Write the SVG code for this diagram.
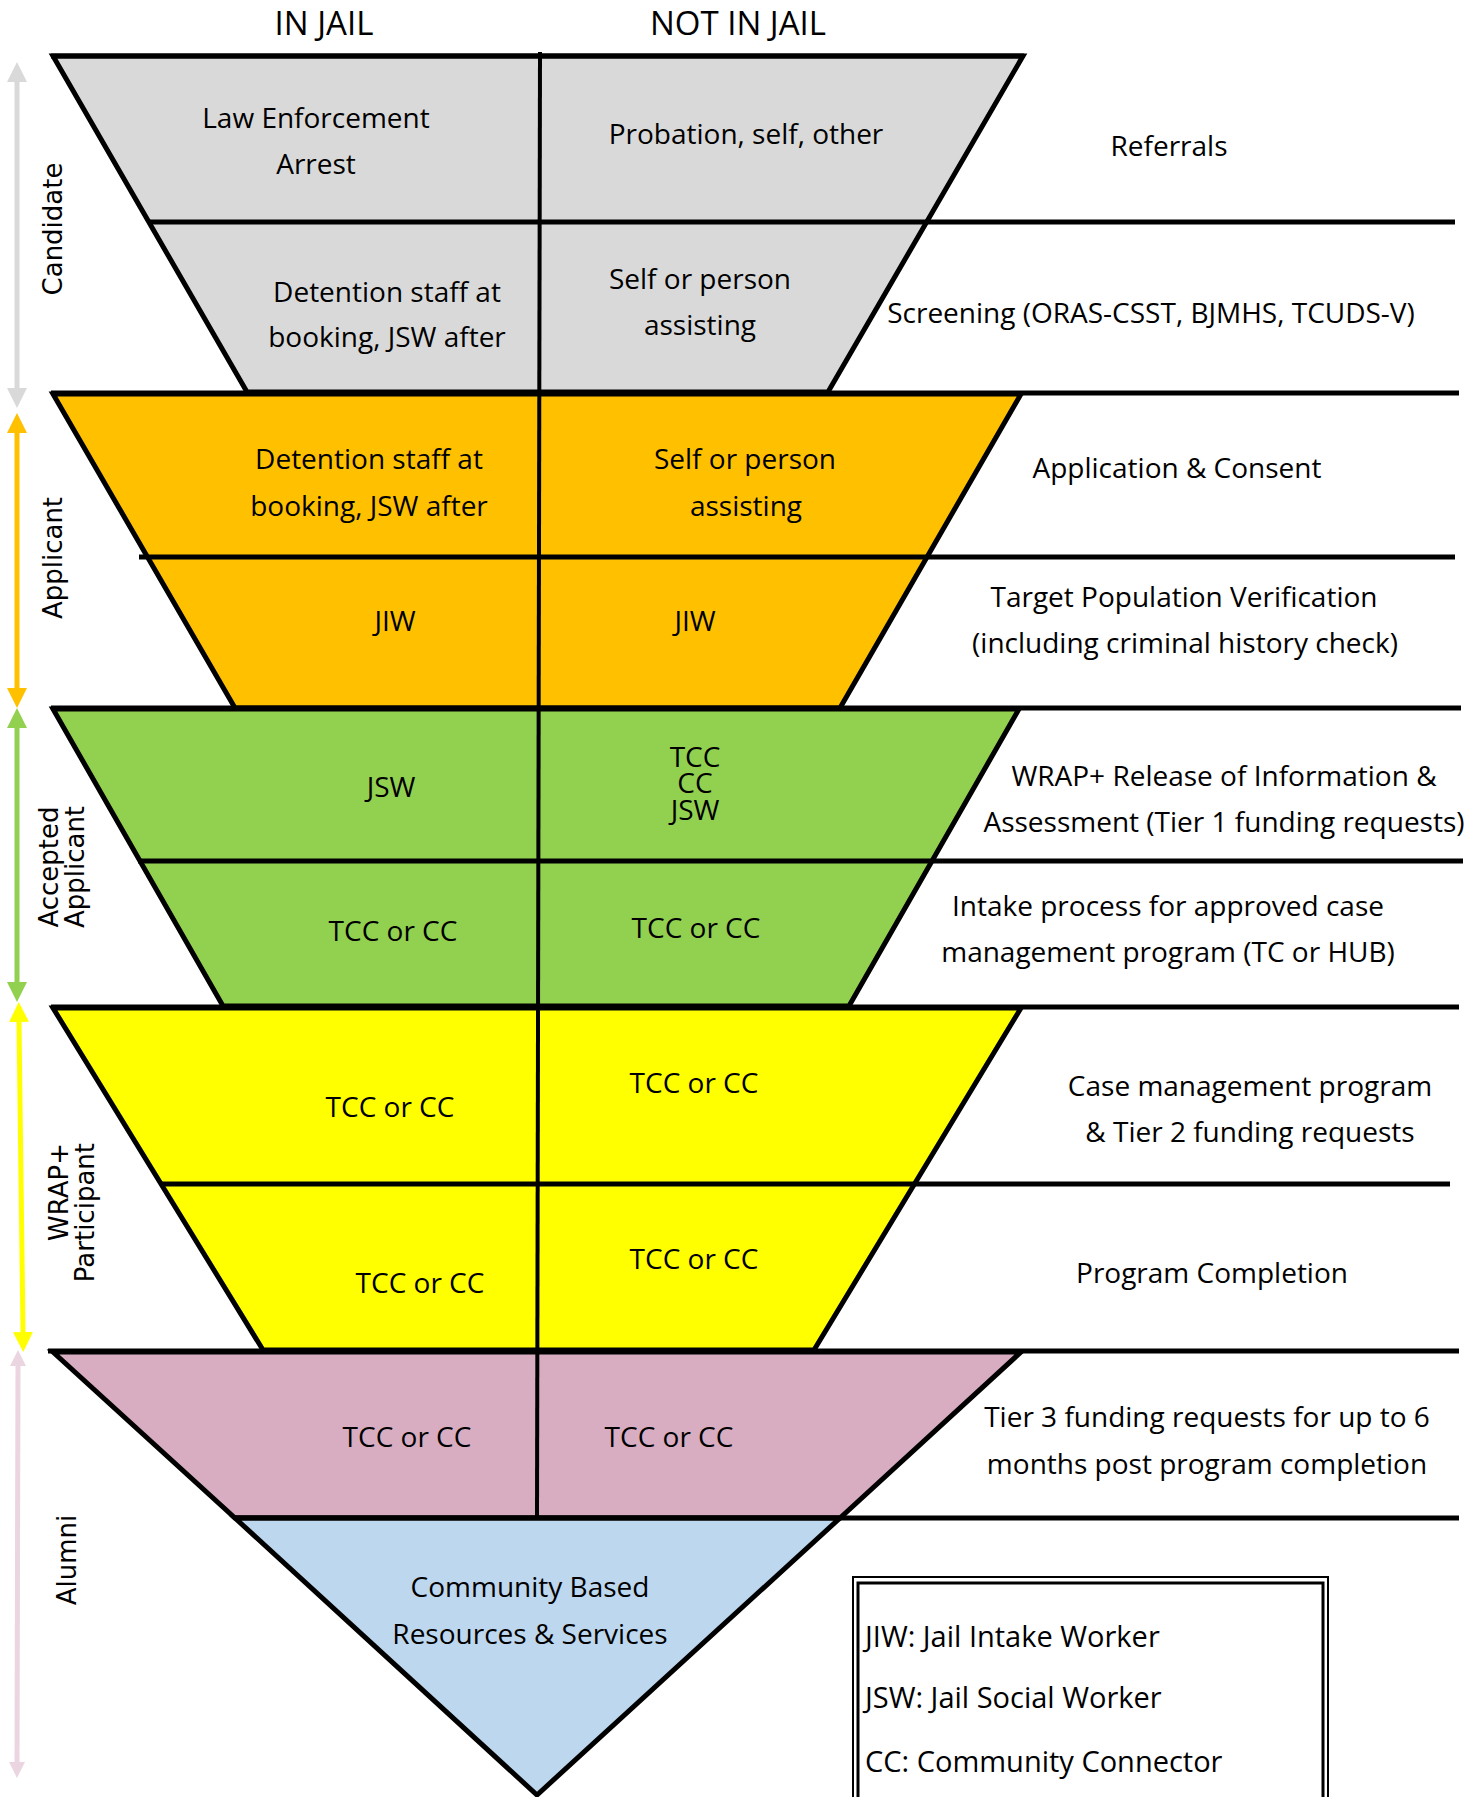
<svg xmlns="http://www.w3.org/2000/svg" width="1480" height="1797" viewBox="0 0 1480 1797">
<defs>
<style>
.edge{stroke:#000;stroke-width:5;stroke-linejoin:miter}
.rule{stroke:#000;stroke-width:5;fill:none}
.vdiv{stroke:#000;stroke-width:4;fill:none}
.t{font-family:"Open Sans","Liberation Sans",sans-serif;font-size:28px;fill:#000;text-anchor:middle}
.hd{font-size:33px}
.lg{font-size:29px;text-anchor:start}
.side{font-family:"DejaVu Sans",sans-serif;font-size:26px;fill:#000}
.shaft{stroke-width:5;fill:none}
</style>
<marker id="ah-grey" viewBox="0 0 20 20" refX="0" refY="10" markerWidth="20" markerHeight="20" markerUnits="userSpaceOnUse" orient="auto-start-reverse"><path d="M0,0 L20,10 L0,20 z" fill="#d9d9d9"/></marker>
<marker id="ah-orange" viewBox="0 0 20 20" refX="0" refY="10" markerWidth="20" markerHeight="20" markerUnits="userSpaceOnUse" orient="auto-start-reverse"><path d="M0,0 L20,10 L0,20 z" fill="#ffc000"/></marker>
<marker id="ah-green" viewBox="0 0 20 20" refX="0" refY="10" markerWidth="20" markerHeight="20" markerUnits="userSpaceOnUse" orient="auto-start-reverse"><path d="M0,0 L20,10 L0,20 z" fill="#92d050"/></marker>
<marker id="ah-yellow" viewBox="0 0 20 20" refX="0" refY="10" markerWidth="20" markerHeight="20" markerUnits="userSpaceOnUse" orient="auto-start-reverse"><path d="M0,0 L20,10 L0,20 z" fill="#ffff00"/></marker>
<marker id="ah-pink" viewBox="0 0 20 20" refX="0" refY="10" markerWidth="16" markerHeight="16" markerUnits="userSpaceOnUse" orient="auto-start-reverse"><path d="M0,0 L20,10 L0,20 z" fill="#ead5e0"/></marker>
</defs>
<rect width="1480" height="1797" fill="#fff"/>

<g id="headers">
<text class="t hd" x="324" y="35">IN JAIL</text>
<text class="t hd" x="738" y="35">NOT IN JAIL</text>
</g>

<g id="candidate">
<polygon class="edge" fill="#d9d9d9" points="53,56 1023,56 828,392 247,392"/>
<text class="t" x="316" y="128">Law Enforcement</text>
<text class="t" x="316" y="174">Arrest</text>
<text class="t" x="746" y="144">Probation, self, other</text>
<text class="t" x="387" y="302">Detention staff at</text>
<text class="t" x="387" y="347">booking, JSW after</text>
<text class="t" x="700" y="289">Self or person</text>
<text class="t" x="700" y="335">assisting</text>
</g>

<g id="applicant">
<polygon class="edge" fill="#ffc000" points="53,394 1021,394 840,708 235,708"/>
<text class="t" x="369" y="469">Detention staff at</text>
<text class="t" x="369" y="516">booking, JSW after</text>
<text class="t" x="745" y="469">Self or person</text>
<text class="t" x="746" y="516">assisting</text>
<text class="t" x="395" y="631">JIW</text>
<text class="t" x="695" y="631">JIW</text>
</g>

<g id="accepted">
<polygon class="edge" fill="#92d050" points="53,709 1019,709 849,1006 223,1006"/>
<text class="t" x="391" y="797">JSW</text>
<text class="t" x="695" y="767">TCC</text>
<text class="t" x="695" y="793">CC</text>
<text class="t" x="695" y="820">JSW</text>
<text class="t" x="393" y="941">TCC or CC</text>
<text class="t" x="696" y="938">TCC or CC</text>
</g>

<g id="participant">
<polygon class="edge" fill="#ffff00" points="53,1008 1021,1008 814,1350 263,1350"/>
<text class="t" x="390" y="1117">TCC or CC</text>
<text class="t" x="694" y="1093">TCC or CC</text>
<text class="t" x="420" y="1293">TCC or CC</text>
<text class="t" x="694" y="1269">TCC or CC</text>
</g>

<g id="alumni">
<polygon class="edge" fill="#d8adc2" points="53,1352 1021,1352 840,1518 235,1518"/>
<polygon class="edge" fill="#bdd7ee" points="235,1518 840,1518 537,1795"/>
<text class="t" x="407" y="1447">TCC or CC</text>
<text class="t" x="669" y="1447">TCC or CC</text>
<text class="t" x="530" y="1597">Community Based</text>
<text class="t" x="530" y="1644">Resources &amp; Services</text>
</g>

<g id="rules">
<line class="rule" x1="51" y1="56" x2="1024" y2="56"/>
<line class="rule" x1="149" y1="222" x2="1455" y2="222"/>
<line class="rule" x1="51" y1="393" x2="1459" y2="393"/>
<line class="rule" x1="139" y1="557" x2="1455" y2="557"/>
<line class="rule" x1="51" y1="708" x2="1461" y2="708"/>
<line class="rule" x1="138" y1="861" x2="1463" y2="861"/>
<line class="rule" x1="51" y1="1007" x2="1459" y2="1007"/>
<line class="rule" x1="161" y1="1184" x2="1450" y2="1184"/>
<line class="rule" x1="48" y1="1351" x2="1459" y2="1351"/>
<line class="rule" x1="235" y1="1518" x2="1459" y2="1518"/>
<line class="vdiv" x1="540" y1="52" x2="537" y2="1518"/>
</g>

<g id="steps">
<text class="t" x="1169" y="156">Referrals</text>
<text class="t" x="1151" y="323">Screening (ORAS-CSST, BJMHS, TCUDS-V)</text>
<text class="t" x="1177" y="478">Application &amp; Consent</text>
<text class="t" x="1184" y="607">Target Population Verification</text>
<text class="t" x="1185" y="653">(including criminal history check)</text>
<text class="t" x="1224" y="786">WRAP+ Release of Information &amp;</text>
<text class="t" x="1224" y="832">Assessment (Tier 1 funding requests)</text>
<text class="t" x="1168" y="916">Intake process for approved case</text>
<text class="t" x="1168" y="962">management program (TC or HUB)</text>
<text class="t" x="1250" y="1096">Case management program</text>
<text class="t" x="1250" y="1142">&amp; Tier 2 funding requests</text>
<text class="t" x="1212" y="1283">Program Completion</text>
<text class="t" x="1207" y="1427">Tier 3 funding requests for up to 6</text>
<text class="t" x="1207" y="1474">months post program completion</text>
</g>

<g id="stage-arrows">
<line class="shaft" stroke="#d9d9d9" x1="17" y1="82" x2="17" y2="388" marker-start="url(#ah-grey)" marker-end="url(#ah-grey)"/>
<line class="shaft" stroke="#ffc000" x1="17" y1="433" x2="17" y2="688" marker-start="url(#ah-orange)" marker-end="url(#ah-orange)"/>
<line class="shaft" stroke="#92d050" x1="17" y1="728" x2="17" y2="982" marker-start="url(#ah-green)" marker-end="url(#ah-green)"/>
<line class="shaft" stroke="#ffff00" x1="19" y1="1022" x2="23" y2="1332" marker-start="url(#ah-yellow)" marker-end="url(#ah-yellow)"/>
<line class="shaft" stroke="#ead5e0" stroke-width="3" x1="18" y1="1366" x2="17" y2="1762" marker-start="url(#ah-pink)" marker-end="url(#ah-pink)"/>
</g>

<g id="stage-labels">
<text class="side" text-anchor="middle" transform="translate(62,229) rotate(-90)">Candidate</text>
<text class="side" text-anchor="middle" transform="translate(62,558) rotate(-90)">Applicant</text>
<text class="side" text-anchor="middle" transform="translate(58,867) rotate(-90)">Accepted</text>
<text class="side" text-anchor="middle" transform="translate(84,867) rotate(-90)">Applicant</text>
<text class="side" text-anchor="end" transform="translate(68,1143) rotate(-90)">WRAP+</text>
<text class="side" text-anchor="end" transform="translate(94,1143) rotate(-90)">Participant</text>
<text class="side" text-anchor="middle" transform="translate(76,1560) rotate(-90)">Alumni</text>
</g>

<g id="legend">
<rect x="853" y="1577" width="475" height="260" fill="#fff" stroke="#000" stroke-width="2"/>
<rect x="858" y="1583" width="465" height="260" fill="none" stroke="#000" stroke-width="3"/>
<text class="t lg" x="865" y="1647">JIW: Jail Intake Worker</text>
<text class="t lg" x="865" y="1708">JSW: Jail Social Worker</text>
<text class="t lg" x="865" y="1772">CC: Community Connector</text>
</g>
</svg>
